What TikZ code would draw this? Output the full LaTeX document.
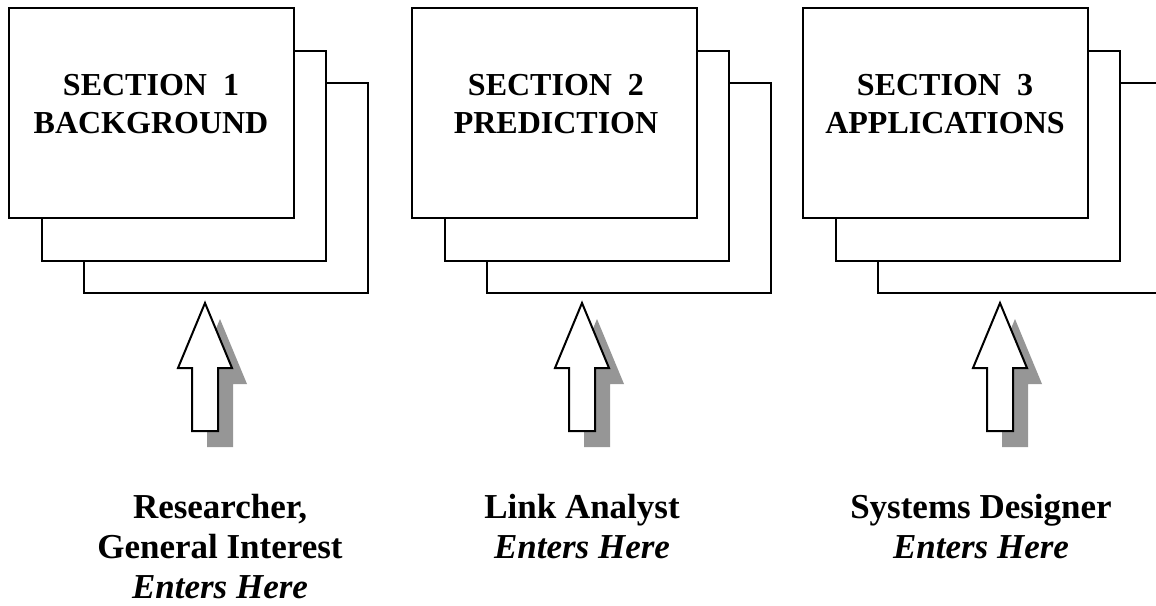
\documentclass[tikz,border=0pt]{standalone}
\usepackage{fontspec}
\setmainfont{Liberation Serif}
\definecolor{shadowgray}{RGB}{150,150,150}
\begin{document}
\begin{tikzpicture}[x=0.5pt,y=-0.5pt,line join=miter,line width=1pt,
  sheet/.style={draw,fill=white},
  title/.style={font=\fontsize{16}{19}\selectfont\bfseries,align=center,inner sep=0pt},
  reader/.style={font=\fontsize{17.5}{20}\selectfont\bfseries,align=center,anchor=north,inner sep=0pt}]
	\useasboundingbox (0,0) rectangle (1156,605);
	\begin{scope}
		\clip (0,0) rectangle (1156,605);
		\foreach \x in {9,412,803}{
			\draw[sheet] (\x+75,83) rectangle (\x+359,293);
			\draw[sheet] (\x+33,51) rectangle (\x+317,261);
			\draw[sheet] (\x,8) rectangle (\x+285,218);}
	\end{scope}
	\node[title] (sec1) at (151,104) {SECTION\ \ 1\\BACKGROUND};
	\node[title] (sec2) at (556,104) {SECTION\ \ 2\\PREDICTION};
	\node[title] (sec3) at (945,104) {SECTION\ \ 3\\APPLICATIONS};
	% block arrows with a drop shadow
	\def\entryarrow{(0,303) -- (27,368) -- (13,368) -- (13,431) -- (-13,431) -- (-13,368) -- (-27,368) -- cycle}
	\foreach \c in {205,582,1000}{
		\begin{scope}[shift={(\c,0)}]
			\fill[shadowgray,shift={(15,16)}] \entryarrow;
			\draw[fill=white] \entryarrow;
		\end{scope}}
	\node[reader] (who1) at (220,493) {Researcher,\\General Interest\\\textit{Enters Here}};
	\node[reader] (who2) at (582,493) {Link Analyst\\\textit{Enters Here}};
	\node[reader] (who3) at (981,493) {Systems Designer\\\textit{Enters Here}};
\end{tikzpicture}
\end{document}
